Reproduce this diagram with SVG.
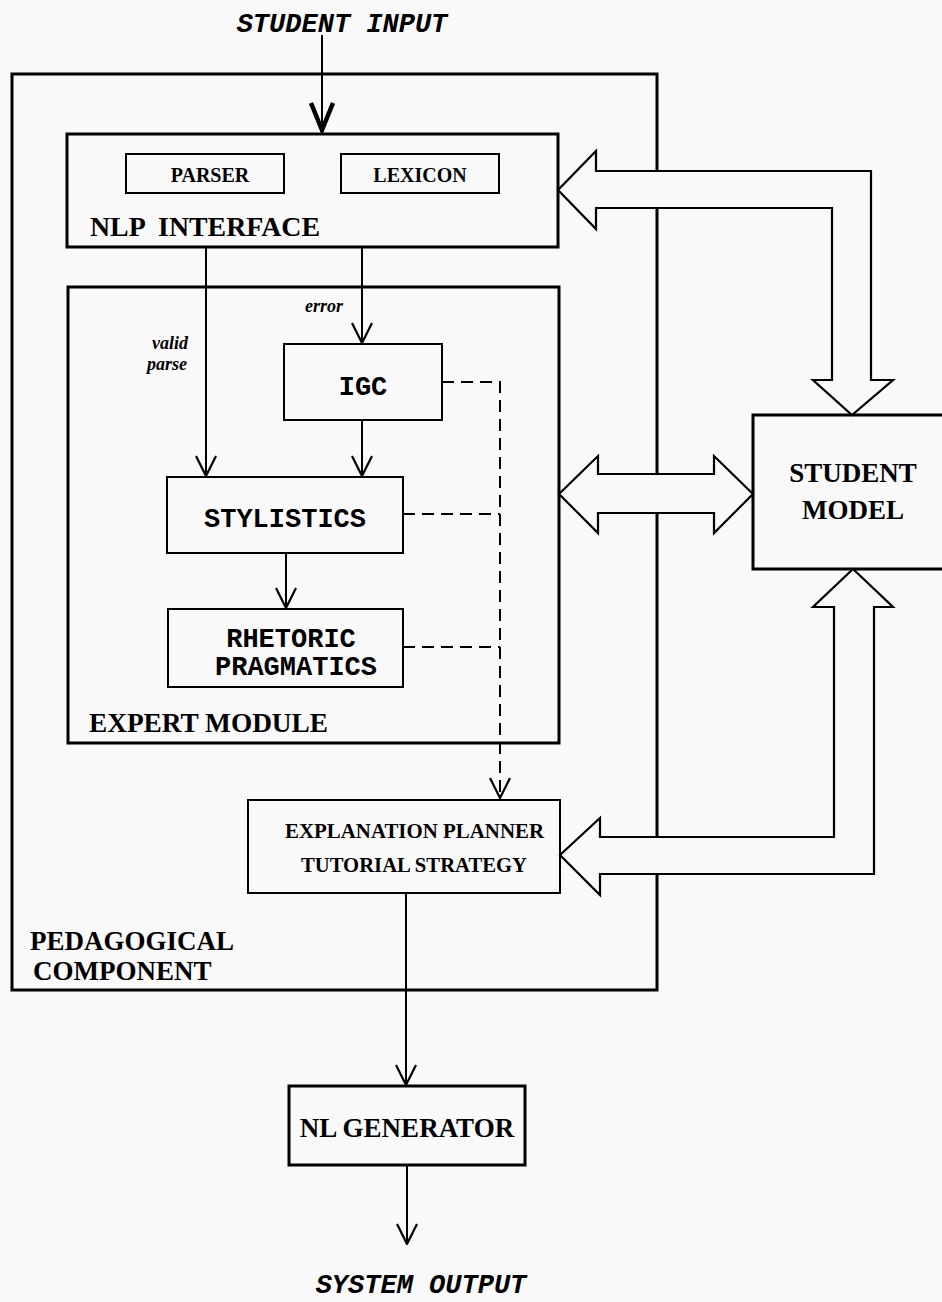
<svg xmlns="http://www.w3.org/2000/svg" width="942" height="1302" viewBox="0 0 942 1302">
<style>
.bx{fill:none;stroke:#000;stroke-width:3}
.sb{fill:none;stroke:#000;stroke-width:2}
.ln{fill:none;stroke:#000;stroke-width:2}
.dl{fill:none;stroke:#000;stroke-width:2;stroke-dasharray:12 7}
.ha{fill:#f9f9f9;stroke:#000;stroke-width:2.2;stroke-linejoin:miter}
.sf{font-family:"Liberation Serif","Times New Roman",serif;font-weight:bold;fill:#000}
.mo{font-family:"Liberation Mono","Courier New",monospace;font-weight:bold;fill:#000}
.it{font-family:"Liberation Mono","Courier New",monospace;font-style:italic;font-weight:bold;fill:#000;font-size:27px}
.lb{font-family:"Liberation Serif","Times New Roman",serif;font-style:italic;font-weight:bold;font-size:18px;fill:#000}
</style>
<defs>
<marker id="v" viewBox="0 0 22 22" refX="21" refY="11" markerWidth="22" markerHeight="22" markerUnits="userSpaceOnUse" orient="auto">
<path d="M1,1 L21,11 L1,21" fill="none" stroke="#000" stroke-width="2.2"/>
</marker>
<marker id="vt" viewBox="0 0 32 26" refX="29" refY="13" markerWidth="32" markerHeight="26" markerUnits="userSpaceOnUse" orient="auto">
<path d="M2,2 L29,13 L2,24" fill="none" stroke="#000" stroke-width="4.5"/>
</marker>
</defs>
<rect width="942" height="1302" fill="#f9f9f9"/>

<g id="student-input"><text class="it" x="342" y="32" text-anchor="middle">STUDENT INPUT</text></g>

<g id="pedagogical-component">
<rect class="bx" x="12" y="74" width="645" height="916"/>
<text class="sf" font-size="27" x="30" y="950">PEDAGOGICAL</text>
<text class="sf" font-size="27" x="33" y="980">COMPONENT</text>
</g>

<g id="nlp-interface">
<rect class="bx" x="67" y="134" width="491" height="113"/>
<text class="sf" font-size="27" x="90" y="236" textLength="230" lengthAdjust="spacingAndGlyphs" xml:space="preserve">NLP  INTERFACE</text>
</g>
<g id="parser">
<rect class="sb" x="126" y="154" width="158" height="39"/>
<text class="sf" font-size="20" x="210" y="182" text-anchor="middle">PARSER</text>
</g>
<g id="lexicon">
<rect class="sb" x="341" y="154" width="158" height="39"/>
<text class="sf" font-size="20" x="420" y="182" text-anchor="middle">LEXICON</text>
</g>

<g id="expert-module">
<rect class="bx" x="68" y="287" width="491" height="456"/>
<text class="sf" font-size="27" x="89" y="732" textLength="239" lengthAdjust="spacingAndGlyphs">EXPERT MODULE</text>
</g>
<g id="igc">
<rect class="sb" x="284" y="344" width="158" height="76"/>
<text class="mo" font-size="27" x="363" y="395" text-anchor="middle">IGC</text>
</g>
<g id="stylistics">
<rect class="sb" x="167" y="477" width="236" height="76"/>
<text class="mo" font-size="27" x="285" y="527" text-anchor="middle">STYLISTICS</text>
</g>
<g id="rhetoric-pragmatics">
<rect class="sb" x="168" y="609" width="235" height="78"/>
<text class="mo" font-size="27" x="291" y="647" text-anchor="middle">RHETORIC</text>
<text class="mo" font-size="27" x="296" y="675" text-anchor="middle">PRAGMATICS</text>
</g>

<g id="explanation-planner">
<rect class="sb" x="248" y="800" width="312" height="93"/>
<text class="sf" font-size="22" x="285" y="838" textLength="259" lengthAdjust="spacingAndGlyphs">EXPLANATION PLANNER</text>
<text class="sf" font-size="22" x="301" y="872" textLength="226" lengthAdjust="spacingAndGlyphs">TUTORIAL STRATEGY</text>
</g>

<g id="student-model">
<rect class="bx" x="753" y="415" width="200" height="154"/>
<text class="sf" font-size="27" x="853" y="482" text-anchor="middle">STUDENT</text>
<text class="sf" font-size="27" x="853" y="519" text-anchor="middle">MODEL</text>
</g>

<g id="nl-generator">
<rect class="bx" x="289" y="1086" width="236" height="79"/>
<text class="sf" font-size="27" x="407" y="1137" text-anchor="middle">NL GENERATOR</text>
</g>

<g id="system-output"><text class="it" x="421" y="1293" text-anchor="middle">SYSTEM OUTPUT</text></g>

<g id="connectors">
<line class="ln" x1="322" y1="35" x2="322" y2="130" stroke-width="5" marker-end="url(#vt)"/>
<line class="ln" x1="206" y1="247" x2="206" y2="476" marker-end="url(#v)"/>
<line class="ln" x1="362" y1="247" x2="362" y2="343" marker-end="url(#v)"/>
<line class="ln" x1="362" y1="420" x2="362" y2="476" marker-end="url(#v)"/>
<line class="ln" x1="286" y1="553" x2="286" y2="608" marker-end="url(#v)"/>
<path class="dl" d="M442,382 H500 V798" marker-end="url(#v)"/>
<path class="dl" d="M403,514 H500"/>
<path class="dl" d="M403,647 H500"/>
<line class="ln" x1="406" y1="893" x2="406" y2="1085" marker-end="url(#v)"/>
<line class="ln" x1="407" y1="1165" x2="407" y2="1244" stroke-width="2.5" marker-end="url(#v)"/>
<path class="ha" d="M558,190 L596,151 L596,171 L871,171 L871,380 L893,380 L852,415 L813,380 L832,380 L832,208 L596,208 L596,229 Z"/>
<path class="ha" d="M559,494 L598,456 L598,474 L714,474 L714,456 L753,494 L714,533 L714,513 L598,513 L598,533 Z"/>
<path class="ha" d="M560,855 L600,818 L600,837 L834,837 L834,607 L813,607 L853,569 L893,607 L874,607 L874,874 L600,874 L600,895 Z"/>
</g>

<g id="labels">
<text class="lb" x="343" y="312" text-anchor="end">error</text>
<text class="lb" x="188" y="349" text-anchor="end">valid</text>
<text class="lb" x="187" y="370" text-anchor="end">parse</text>
</g>
</svg>
